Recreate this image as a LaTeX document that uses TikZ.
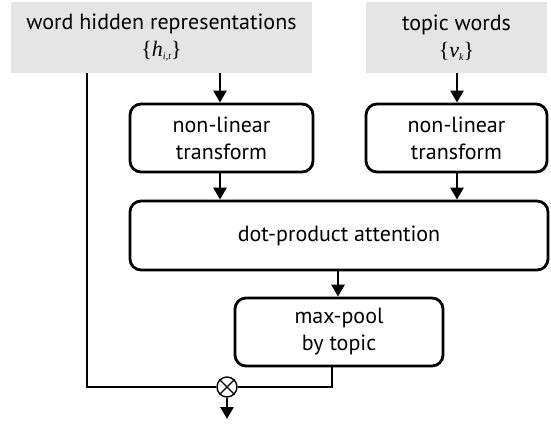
\documentclass[tikz,border=0pt]{standalone}
\usepackage{fontspec}
\setmainfont{PT Sans}
\newfontfamily\mathserif{Liberation Serif}
\usetikzlibrary{arrows.meta}
\begin{document}
\begin{tikzpicture}[x=1pt,y=-1pt,
  txt/.style={font=\fontsize{22}{27}\selectfont,align=center,inner sep=0pt},
  greybox/.style={txt,fill=black!10,draw=none,minimum height=71pt},
  procbox/.style={txt,draw,line width=2.8pt,rounded corners=11pt},
  arr/.style={line width=2.8pt,-{Triangle[length=12pt,width=13pt]}},
  ln/.style={line width=2.8pt}]
\useasboundingbox (0,0) rectangle (551,423);
\newcommand{\mset}[2]{{\mathserif\{\itshape #1\raisebox{-3pt}{\fontsize{10}{10}\selectfont #2}\upshape\}}}
\node[greybox,minimum width=301pt] (wh) at (161.5,37.5) {word hidden representations\\\mset{h}{i,t}};
\node[greybox,minimum width=181pt] (tw) at (456.5,37.5) {topic words\\\mset{v}{k}};
\node[procbox,minimum width=183pt,minimum height=68pt] (nl1) at (221.5,138) {non-linear\\transform};
\node[procbox,minimum width=181pt,minimum height=68pt] (nl2) at (456.5,138) {non-linear\\transform};
\node[procbox,minimum width=418pt,minimum height=69pt] (dp) at (339,235.5) {dot-product attention};
\node[procbox,minimum width=208pt,minimum height=68pt] (mp) at (339,332) {max-pool\\by topic};
\node[circle,draw,line width=1.4pt,minimum size=20pt,inner sep=0pt] (ox) at (227,387) {};
\draw[line width=1.4pt] (ox.north west) -- (ox.south east) (ox.north east) -- (ox.south west);
\coordinate (out) at (227,419);
\draw[arr] (wh.south -| 220,0) -- (nl1.north -| 220,0);
\draw[arr] (tw.south -| 457,0) -- (nl2.north -| 457,0);
\draw[arr] (nl1.south -| 220,0) -- (dp.north -| 220,0);
\draw[arr] (nl2.south -| 457,0) -- (dp.north -| 457,0);
\draw[arr] (dp.south -| 338,0) -- (mp.north -| 338,0);
\draw[ln] (wh.south -| 87,0) |- (ox.west);
\draw[ln] (mp.south -| 332,0) |- (ox.east);
\draw[arr] (ox.south) -- (out);
\end{tikzpicture}
\end{document}
